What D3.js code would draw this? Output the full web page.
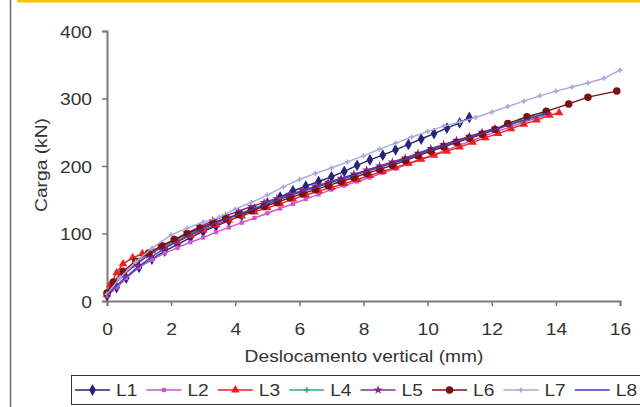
<!DOCTYPE html>
<html>
<head>
<meta charset="utf-8">
<script src="https://cdn.jsdelivr.net/npm/d3@7"></script>
<style>
  html, body { margin: 0; padding: 0; background: #fff; }
  svg { display: block; font-family: "Liberation Sans", Arial, sans-serif; }
</style>
</head>
<body>
<svg id="chart" width="640" height="407"></svg>
<script>
// ─── Data ────────────────────────────────────────────────
const xTicks = [0, 2, 4, 6, 8, 10, 12, 14, 16];
const yTicks = [0, 100, 200, 300, 400];

const L1 = [[0,8],[0.3,20],[0.6,34],[1,50],[1.4,62],[1.8,74],[2.2,84],[2.6,94],[3,103],[3.4,111],[3.8,119],[4.2,127],[4.6,136],[5,145],[5.4,154],[5.8,163],[6.2,170],[6.6,177],[7,184],[7.4,192],[7.8,201],[8.2,209],[8.6,216],[9,224],[9.4,232],[9.8,240],[10.2,248],[10.6,256],[11,264],[11.3,272]];
const L2 = [[0,8],[0.3,20],[0.6,34],[1,50],[1.4,61],[1.8,71],[2.2,79],[2.6,87],[3,94],[3.4,102],[3.8,109],[4.2,116],[4.6,123],[5,130],[5.4,137],[5.8,144],[6.2,151],[6.6,158],[7,165],[7.4,171],[7.8,177],[8.2,183],[8.6,190],[9,196],[9.4,203],[9.8,210],[10.2,217],[10.6,224],[11,231],[11.4,238],[11.8,245],[12.2,252],[12.6,258],[13,265],[13.4,271],[13.8,277]];
const L3 = [[0,10],[0.1,24],[0.3,42],[0.5,55],[0.8,64],[1.1,70],[1.4,74],[1.8,80],[2.2,88],[2.6,97],[3,105],[3.4,113],[3.8,120],[4.2,126],[4.6,132],[5,138],[5.4,144],[5.8,151],[6.2,157],[6.6,163],[7,168],[7.4,174],[7.8,180],[8.2,186],[8.6,192],[9,198],[9.4,204],[9.8,210],[10.2,216],[10.6,222],[11,228],[11.4,235],[11.8,242],[12.2,248],[12.6,255],[13,262],[13.4,268],[13.8,275],[14.1,279]];
const L4 = [[0,10],[0.2,24],[0.5,40],[0.9,56],[1.3,68],[1.7,79],[2.1,89],[2.5,98],[2.9,107],[3.3,115],[3.7,122],[4.1,129],[4.5,136],[4.9,143],[5.3,150],[5.7,157],[6.1,163],[6.5,169],[6.9,175],[7.3,181],[7.7,187],[8.1,193],[8.5,199],[8.9,205],[9.3,211],[9.7,218],[10.1,225],[10.5,231],[10.9,237],[11.3,243],[11.7,249],[12.1,255],[12.5,261],[12.9,267],[13.3,273],[13.6,277]];
const L5 = [[0,10],[0.2,22],[0.5,38],[0.9,54],[1.3,68],[1.7,80],[2.1,91],[2.5,101],[2.9,110],[3.3,119],[3.7,126],[4.1,133],[4.5,140],[4.9,146],[5.3,152],[5.7,158],[6.1,164],[6.5,170],[6.9,176],[7.3,182],[7.7,188],[8.1,194],[8.5,200],[8.9,206],[9.3,212],[9.7,219],[10.1,226],[10.5,232],[10.9,238],[11.3,244],[11.7,250],[12.1,256]];
const L6 = [[0,12],[0.2,28],[0.5,44],[0.9,59],[1.3,71],[1.7,82],[2.1,91],[2.5,100],[2.9,108],[3.3,116],[3.7,122],[4.1,128],[4.5,134],[4.9,140],[5.3,146],[5.7,153],[6.1,159],[6.5,165],[6.9,171],[7.3,177],[7.7,183],[8.1,189],[8.5,195],[8.9,201],[9.3,208],[9.7,215],[10.1,222],[10.5,228],[10.9,235],[11.3,241],[11.7,247],[12.1,254],[12.5,263],[13.1,273],[13.7,281],[14.4,292],[15,302],[15.9,311]];
const L7 = [[0,10],[0.4,34],[0.9,58],[1.4,78],[2,98],[2.5,108],[3,117],[3.5,124],[4,136],[4.5,146],[5,157],[5.5,169],[6,180],[6.5,189],[7,197],[7.5,206],[8,215],[8.5,225],[9,234],[9.5,243],[10,251],[10.5,259],[11,265],[11.5,272],[12,280],[12.5,288],[13,296],[13.5,304],[14,311],[14.5,317],[15,323],[15.5,330],[16,342]];
const L8 = [[0,8],[0.2,18],[0.5,32],[0.9,48],[1.3,62],[1.7,75],[2.1,86],[2.5,96],[2.9,105],[3.3,114],[3.7,121],[4.1,128],[4.5,135],[4.9,142],[5.3,149],[5.7,156],[6.1,162],[6.5,168],[6.9,174],[7.3,180],[7.7,186],[8.1,192],[8.5,198],[8.9,204],[9.3,210],[9.7,217],[10.1,224],[10.5,230],[10.9,236],[11.3,242],[11.7,248],[12.1,254],[12.5,260],[12.9,266],[13.3,272],[13.8,279]];

const seriesNames = ['L1', 'L2', 'L3', 'L4', 'L5', 'L6', 'L7', 'L8'];
const seriesData = [L1, L2, L3, L4, L5, L6, L7, L8];

// ─── Styles ──────────────────────────────────────────────
const colors = ['#25257a', '#cc55cc', '#ee2020', '#3aa877', '#8a2890', '#7a1010', '#a8a8dc', '#3e3ec0'];
const symbols = [d3.symbolDiamond, d3.symbolSquare, d3.symbolTriangle, d3.symbolCross, d3.symbolStar, d3.symbolCircle, d3.symbolCross, null];
const symSizes = [40, 18, 32, 16, 26, 44, 14, 0];
const SX = 1.2; // the labels in the source are drawn wide

const svg = d3.select('#chart');
const x = d3.scaleLinear().domain([0, 16]).range([107, 620]);
const y = d3.scaleLinear().domain([0, 400]).range([301, 31]);

// frame decorations
svg.append('line').attr('x1', 10.5).attr('x2', 10.5).attr('y1', 0).attr('y2', 407)
  .attr('stroke', '#6a6a6a').attr('stroke-width', 1.5);
svg.append('rect').attr('x', 17).attr('y', 0).attr('width', 623).attr('height', 2.5).attr('fill', '#f6c400');

// wide text helper: draws text at (px,py), stretched along its own direction
function wideText(parent, px, py, str, anchor, rot = 0) {
  return parent.append('text')
    .attr('transform', `translate(${px},${py}) rotate(${rot}) scale(${SX},1)`)
    .attr('text-anchor', anchor).attr('fill', '#333').attr('font-size', 16).text(str);
}

// ─── Axes ────────────────────────────────────────────────
const xAxis = svg.append('g').attr('transform', `translate(0,${y(0)})`)
  .call(d3.axisBottom(x).tickValues(xTicks).tickSize(5).tickPadding(10));
const yAxis = svg.append('g').attr('transform', `translate(${x(0)},0)`)
  .call(d3.axisLeft(y).tickValues(yTicks).tickSize(5).tickPadding(10));

[xAxis, yAxis].forEach(g => {
  g.select('.domain').attr('stroke', '#7a7a7a').attr('stroke-width', 2);
  g.selectAll('.tick line').attr('stroke', '#7a7a7a').attr('stroke-width', 1.5);
  g.selectAll('.tick text').remove();
});
xAxis.selectAll('.tick').each(function (d) { wideText(d3.select(this), 0, 34, d, 'middle'); });
yAxis.selectAll('.tick').each(function (d) { wideText(d3.select(this), -15, 6, d, 'end'); });

wideText(svg, 364, 362, 'Deslocamento vertical (mm)', 'middle');
wideText(svg, 47, 165, 'Carga (kN)', 'middle', -90);

// ─── Series ──────────────────────────────────────────────
const line = d3.line().x(d => x(d[0])).y(d => y(d[1]));
const plot = svg.append('g');

seriesData.forEach((data, i) => {
  plot.append('path').datum(data).attr('d', line)
    .attr('fill', 'none').attr('stroke', colors[i]).attr('stroke-width', 1.4);
  if (symbols[i]) {
    plot.selectAll(null).data(data).join('path')
      .attr('transform', d => `translate(${x(d[0])},${y(d[1])})`)
      .attr('d', d3.symbol().type(symbols[i]).size(symSizes[i]))
      .attr('fill', colors[i]);
  }
});

// ─── Legend ──────────────────────────────────────────────
const legend = svg.append('g');
legend.append('rect').attr('x', 71.5).attr('y', 375.5).attr('width', 580).attr('height', 29)
  .attr('fill', '#fff').attr('stroke', '#333').attr('stroke-width', 1);

seriesNames.forEach((name, i) => {
  const lx = 75 + i * 71.4;
  const g = legend.append('g').attr('transform', `translate(${lx},390)`);
  g.append('line').attr('x1', 0).attr('x2', 35).attr('stroke', colors[i]).attr('stroke-width', 1.5);
  if (symbols[i]) {
    g.append('path').attr('transform', 'translate(17.5,0)')
      .attr('d', d3.symbol().type(symbols[i]).size(symSizes[i]))
      .attr('fill', colors[i]);
  }
  wideText(g, 41, 6, name, 'start');
});
</script>
</body>
</html>
